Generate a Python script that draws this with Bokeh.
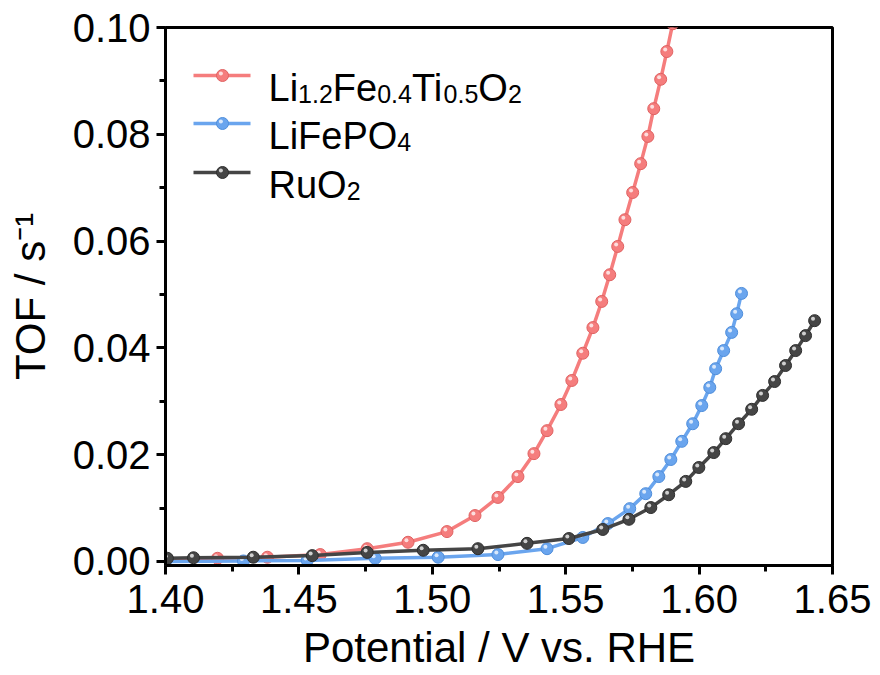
import numpy as np
from bokeh.plotting import figure
from bokeh.models import Label, FixedTicker, NumeralTickFormatter, Range1d
from bokeh.embed import file_html
from bokeh.resources import INLINE

# ---------------- data ----------------
x_ticks = [1.40, 1.45, 1.50, 1.55, 1.60, 1.65]
x_minor = [1.425, 1.475, 1.525, 1.575, 1.625]
y_ticks = [0.00, 0.02, 0.04, 0.06, 0.08, 0.10]
y_minor = [0.01, 0.03, 0.05, 0.07, 0.09]

lfto_v = [1.4000, 1.4195, 1.4382, 1.4580, 1.4756, 1.4909, 1.5055, 1.5160, 1.5246,
          1.5321, 1.5381, 1.5430, 1.5482, 1.5523, 1.5564, 1.5602, 1.5635, 1.5665,
          1.5695, 1.5722, 1.5751, 1.5781, 1.5808, 1.5830, 1.5856, 1.5879, 1.5901]
lfto_tof = [0.0002, 0.0006, 0.0008, 0.0013, 0.0024, 0.0036, 0.0056, 0.0086, 0.0120,
            0.0159, 0.0202, 0.0245, 0.0294, 0.0339, 0.0390, 0.0438, 0.0487, 0.0537,
            0.0590, 0.0640, 0.0691, 0.0745, 0.0796, 0.0848, 0.0903, 0.0955, 0.1007]

lfp_v = [1.4000, 1.4292, 1.4531, 1.4786, 1.5022, 1.5246, 1.5430, 1.5564, 1.5658,
         1.5740, 1.5800, 1.5849, 1.5894, 1.5935, 1.5976, 1.6010, 1.6040, 1.6062,
         1.6092, 1.6122, 1.6141, 1.6159]
lfp_tof = [0.0000, 0.0001, 0.0002, 0.0006, 0.0008, 0.0013, 0.0024, 0.0045, 0.0071,
           0.0099, 0.0127, 0.0159, 0.0191, 0.0225, 0.0258, 0.0292, 0.0326, 0.0361,
           0.0395, 0.0429, 0.0464, 0.0502]

ruo2_v = [1.4007, 1.4105, 1.4329, 1.4550, 1.4756, 1.4966, 1.5171, 1.5355, 1.5512,
          1.5639, 1.5737, 1.5819, 1.5886, 1.5950, 1.5999, 1.6055, 1.6100, 1.6148,
          1.6197, 1.6238, 1.6283, 1.6324, 1.6362, 1.6399, 1.6433]
ruo2_tof = [0.0006, 0.0007, 0.0008, 0.0011, 0.0017, 0.0021, 0.0024, 0.0034, 0.0043,
            0.0060, 0.0079, 0.0101, 0.0125, 0.0150, 0.0176, 0.0204, 0.0230, 0.0258,
            0.0285, 0.0311, 0.0337, 0.0367, 0.0395, 0.0423, 0.0451]

series_names = [
    [("Li", False), ("1.2", True), ("Fe", False), ("0.4", True), ("Ti", False),
     ("0.5", True), ("O", False), ("2", True)],
    [("LiFePO", False), ("4", True)],
    [("RuO", False), ("2", True)],
]
series_colors = ["#F57D7D", "#6AA5EE", "#454545"]
series_edges = ["#E06262", "#4F8EDB", "#2E2E2E"]

x_title = "Potential / V vs. RHE"
y_title = "TOF / s\u207b\u00b9"

# ---------------- layout ----------------
FONT = "Liberation Sans"
X0, X1 = 1.40, 1.65
Y0, Y1 = -0.00075, 0.10
FL, FT, FW, FH = 165, 27, 667, 538  # frame position in the picture (px)


def px2x(px):
    return X0 + (px - FL) / FW * (X1 - X0)


def py2y(py):
    return Y1 - (py - FT) / FH * (Y1 - Y0)


ARIAL_W = {"L": .556, "i": .222, "F": .611, "e": .556, "T": .611, "O": .778,
           "P": .667, "R": .722, "u": .556, ".": .278, " ": .278, "/": .278,
           "s": .5, "-": .333}


def text_w(s, size):
    return sum(ARIAL_W.get(c, .556) for c in s) * size


p = figure(frame_width=FW, frame_height=FH,
           x_range=Range1d(X0, X1), y_range=Range1d(Y0, Y1),
           output_backend="svg", toolbar_location=None,
           min_border_left=FL, min_border_right=45,
           min_border_top=FT, min_border_bottom=100)

p.background_fill_color = "white"
p.border_fill_color = "white"
p.outline_line_color = "black"
p.outline_line_width = 3
p.outline_line_alpha = 1.0
p.xgrid.visible = False
p.ygrid.visible = False

p.xaxis.ticker = FixedTicker(ticks=x_ticks, minor_ticks=x_minor)
p.yaxis.ticker = FixedTicker(ticks=y_ticks, minor_ticks=y_minor)
p.xaxis.formatter = NumeralTickFormatter(format="0.00")
p.yaxis.formatter = NumeralTickFormatter(format="0.00")

for ax in (p.xaxis[0], p.yaxis[0]):
    ax.axis_line_width = 3
    ax.axis_line_color = "black"
    ax.major_tick_line_width = 3
    ax.minor_tick_line_width = 3
    ax.major_tick_line_color = "black"
    ax.minor_tick_line_color = "black"
    ax.major_tick_in = 0
    ax.major_tick_out = 9
    ax.minor_tick_in = 0
    ax.minor_tick_out = 6
    ax.major_label_text_font = FONT
    ax.major_label_text_font_size = "40px"
    ax.major_label_text_color = "black"
    ax.axis_label_text_font = FONT
    ax.axis_label_text_font_size = "42px"
    ax.axis_label_text_font_style = "normal"
    ax.axis_label_text_color = "black"

p.xaxis.major_label_standoff = 10
p.yaxis.major_label_standoff = 6
p.xaxis.axis_label = x_title
p.xaxis.axis_label_standoff = 8
p.yaxis.axis_label = y_title
p.yaxis.axis_label_standoff = 16

# ---------------- data series ----------------
hx = 1.6 * (X1 - X0) / FW
hy = 2.0 * (Y1 - Y0) / FH
all_series = [(lfto_v, lfto_tof), (lfp_v, lfp_tof), (ruo2_v, ruo2_tof)]
for (xs, ys), c, ec in zip(all_series, series_colors, series_edges):
    p.line(xs, ys, line_color=c, line_width=3.5)
    p.scatter(xs, ys, size=12, fill_color=c, line_color=ec, line_width=1)
    p.scatter(np.array(xs) - hx, np.array(ys) + hy, size=4, fill_color="white",
              fill_alpha=0.75, line_alpha=0)

# ---------------- legend ----------------
leg_line_y = [75, 123, 172]
leg_x0, leg_x1, leg_mark, leg_text = 193, 250, 222, 268
MAIN, SUB = 38, 25
for ly, c, ec, parts in zip(leg_line_y, series_colors, series_edges, series_names):
    p.line([px2x(leg_x0), px2x(leg_x1)], [py2y(ly), py2y(ly)], line_color=c, line_width=3.5)
    p.scatter([px2x(leg_mark)], [py2y(ly)], size=12, fill_color=c, line_color=ec, line_width=1)
    p.scatter([px2x(leg_mark) - hx], [py2y(ly) + hy], size=4, fill_color="white",
              fill_alpha=0.75, line_alpha=0)
    cx = leg_text
    for s, is_sub in parts:
        size = SUB if is_sub else MAIN
        base = ly + (18 if is_sub else 12)
        p.add_layout(Label(x=px2x(cx), y=py2y(base), text=s, text_font=FONT,
                           text_font_size=f"{size}px", text_align="left",
                           text_baseline="alphabetic", text_color="black"))
        cx += text_w(s, size)

open("out.html", "w").write(file_html(p, INLINE))
